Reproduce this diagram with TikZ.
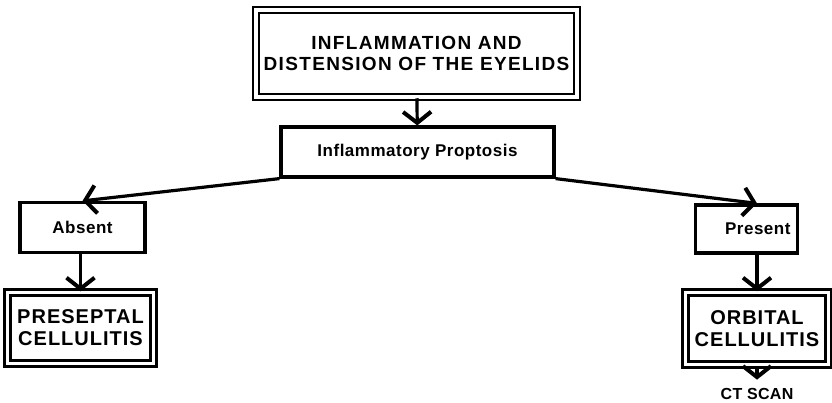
\documentclass[tikz,border=0pt]{standalone}
\usepackage{fontspec}
\setmainfont{Liberation Sans}
\usetikzlibrary{positioning,arrows.meta}

\begin{document}
\begin{tikzpicture}[x=1pt,y=-1pt,
  box/.style={draw,line width=3.2pt,inner sep=0pt,align=center,
    font=\bfseries\addfontfeatures{LetterSpace=3}\fontsize{17}{20}\selectfont},
  dbox/.style={box,double,double distance=3.5pt,line width=2.5pt,
    font=\bfseries\addfontfeatures{LetterSpace=5}\fontsize{20}{22}\selectfont},
  arr/.style={line width=3.2pt,-{Straight Barb[length=11pt,width=28pt,line width=4pt]}}]
\useasboundingbox (0,0) rectangle (832,402);
% top of the tree
\node[dbox,minimum width=321pt,minimum height=87pt,
  font=\bfseries\addfontfeatures{LetterSpace=7}\fontsize{19}{21}\selectfont]
  (distension) at (416.5,53.5) {INFLAMMATION AND\\DISTENSION OF THE EYELIDS};
\node[box,minimum width=273pt,minimum height=50pt] (proptosis) at (417.5,152) {Inflammatory Proptosis};
% the two branches
\node[box,minimum width=125pt,minimum height=50pt] (absent) at (82.5,227.5) {Absent};
\node[box,text width=88pt,align=right,inner xsep=7pt,minimum height=48pt] (present) at (746.5,229) {Present};
\node[dbox,minimum width=146pt,minimum height=71pt] (preseptal) at (80.5,328) {PRESEPTAL\\CELLULITIS};
\node[dbox,minimum width=143pt,minimum height=72pt] (orbital) at (757,328.5) {ORBITAL\\CELLULITIS};
\node[font=\bfseries\addfontfeatures{LetterSpace=2}\fontsize{16}{18}\selectfont,inner sep=0pt]
  (ctscan) at (757,393.5) {CT SCAN};
\draw[arr] (distension) -- (proptosis);
\draw[arr] (proptosis.south west) -- (absent.north);
\draw[arr] (proptosis.south east) -- (present.north -| orbital.north);
\draw[arr] (absent.south -| preseptal.north) -- (preseptal.north);
\draw[arr] (present.south -| orbital.north) -- (orbital.north);
\draw[arr,shorten >=8pt] (orbital.south) -- (ctscan.north);
\end{tikzpicture}
\end{document}
